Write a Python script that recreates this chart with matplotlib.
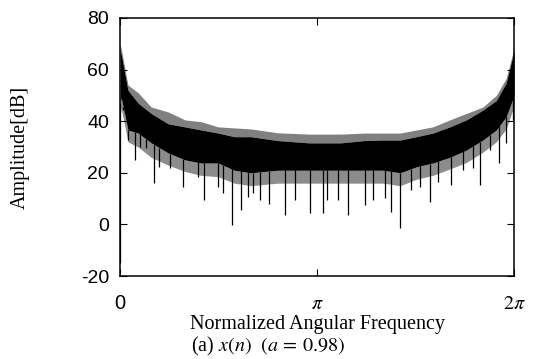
import numpy as np
import matplotlib.pyplot as plt

# envelope of the noisy spectrum (freq as fraction of 2*pi)
freq = [0.0, 0.003, 0.02, 0.046, 0.079, 0.122, 0.165, 0.206, 0.249, 0.29,
        0.332, 0.40, 0.48, 0.56, 0.62, 0.668, 0.711, 0.752, 0.794, 0.837,
        0.879, 0.921, 0.955, 0.98, 0.998, 1.0]
spike_top = [70, 68, 54, 51, 45.5, 43.6, 40.5, 39.8, 37.8, 37.4,
             37, 35.5, 35, 35, 35.4, 35.4, 35.4, 36.6, 37.8, 40.5,
             43, 45.5, 50, 56.6, 67, 69]
band_hi = [68, 66, 52, 47, 43, 39, 37.8, 36.6, 35.4, 34,
           34, 32.5, 31.6, 31.6, 32.5, 32.7, 32.7, 34, 35.4, 37.8,
           40.5, 44.3, 48, 54.8, 66, 68]
band_lo = [46, 49, 36.6, 35.4, 31.6, 27.7, 25, 23.8, 23.8, 21,
           20, 21, 21, 21, 21, 21, 20, 22.3, 23.8, 26,
           28.8, 32.7, 36.6, 41.7, 49, 50]
sparse_lo = [42, 45, 32, 30, 26, 23, 20.5, 19, 18.5, 16,
             15, 16, 16, 16, 16, 16, 15, 17.5, 19, 21.5,
             24, 28, 32, 37, 45, 46]

# deep downward spikes (freq fraction, dB)
dip_freq = [0.001, 0.008, 0.02, 0.037, 0.05, 0.067, 0.086, 0.1, 0.126, 0.16,
            0.198, 0.213, 0.249, 0.261, 0.284, 0.307, 0.325, 0.337, 0.355, 0.379,
            0.419, 0.444, 0.482, 0.514, 0.526, 0.554, 0.579, 0.622, 0.642, 0.672,
            0.688, 0.711, 0.739, 0.761, 0.786, 0.807, 0.84, 0.871, 0.896, 0.913,
            0.939, 0.962, 0.98, 0.998]
dip_level = [-15, 44.3, 32.7, 25, 30, 29.6, 16, 22.3, 21.9, 14.5,
             18.4, 9.5, 14.5, 12.2, -0.2, 5.6, 10.6, 12.2, 9.5, 8,
             3.6, 9.5, 4.3, 4.3, 9.5, 9.5, 3.6, 7.5, 9.5, 10.2,
             4.8, -1.4, 13.3, 14.5, 8.7, 16.4, 15.3, 21, 21.9, 15.3,
             28.8, 23.8, 31.6, 40.5]

yticks = [-20, 0, 20, 40, 60, 80]
xtick_labels = ['0', r'$\pi$', r'$2\pi$']

plt.rcParams['mathtext.fontset'] = 'stix'

fig = plt.figure(figsize=(5.36, 3.59), dpi=100)
ax = fig.add_axes([0.224, 0.231, 0.735, 0.719])

w = np.array(freq) * 2 * np.pi
ax.fill_between(w, band_hi, spike_top, color='0.5', lw=0)
ax.fill_between(w, sparse_lo, band_lo, color='0.55', lw=0)
ax.fill_between(w, band_lo, band_hi, color='black', lw=0)

dw = np.array(dip_freq) * 2 * np.pi
ax.vlines(dw, dip_level, np.interp(dip_freq, freq, band_lo), color='black', lw=0.9)

ax.set_xlim(0, 2 * np.pi)
ax.set_ylim(-20, 80)
ax.set_xticks([0, np.pi, 2 * np.pi])
ax.set_xticklabels(xtick_labels)
ax.set_yticks(yticks)
ax.set_yticklabels([str(v) for v in yticks], family='Liberation Sans')
for lab in ax.get_xticklabels():
    lab.set_fontsize(14.5)
ax.get_xticklabels()[0].set_family('Liberation Sans')
ax.tick_params(axis='y', direction='in', length=5, labelsize=14, pad=8,
               right=True)
ax.tick_params(axis='x', direction='in', length=5, pad=13, top=True)
for s in ax.spines.values():
    s.set_linewidth(1.1)

ax.set_xlabel('Normalized Angular Frequency', family='Liberation Serif',
              fontsize=14.5, labelpad=1)
ax.set_ylabel('Amplitude[dB]', family='Liberation Serif', fontsize=14.5)
ax.yaxis.set_label_coords(-0.23, 0.5)

fig.text(0.5, 0.034, r'(a) $x(n)$  $(a\,=\,0.98)$', family='Liberation Serif',
         fontsize=14.5, ha='center', va='center')

fig.savefig('out.png', dpi=100)
